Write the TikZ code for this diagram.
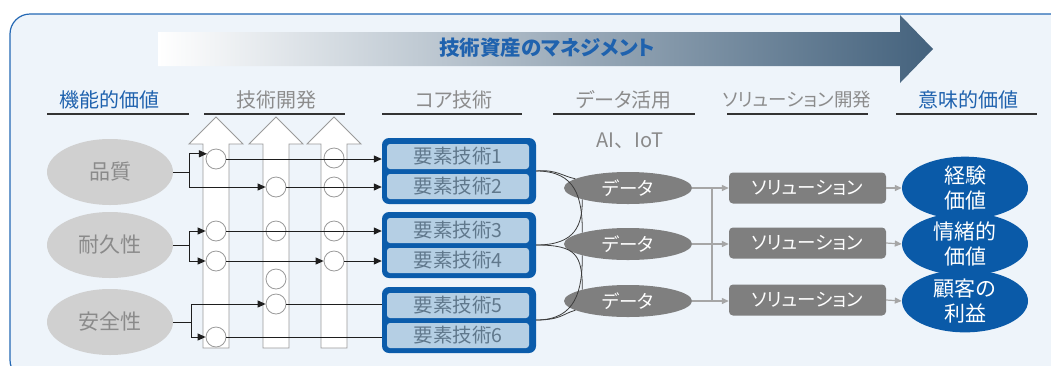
\documentclass[tikz,border=0pt]{standalone}
\usepackage{fontspec}
\setmainfont{Noto Sans CJK JP}[RawFeature=+palt]
\newfontfamily\jpfull{Noto Sans CJK JP}
\usetikzlibrary{arrows.meta,shapes.geometric,calc}
\definecolor{panelfill}{HTML}{EEF4FA}
\definecolor{panelline}{HTML}{2468B4}
\definecolor{hblue}{HTML}{1F62AE}
\definecolor{hgray}{HTML}{8C8C8C}
\definecolor{lgray}{HTML}{D0D0D0}
\definecolor{tgray}{HTML}{8A8A8A}
\definecolor{gblue}{HTML}{0B5CAB}
\definecolor{ibox}{HTML}{B5CFE4}
\definecolor{itext}{HTML}{60788C}
\definecolor{dgray}{HTML}{7F7F7F}
\definecolor{vblue}{HTML}{0A5AA8}
\definecolor{arrdark}{HTML}{44627D}
\definecolor{arrmid}{HTML}{C2D1DD}
\definecolor{cgray}{HTML}{9A9A9A}
\definecolor{busgray}{HTML}{A6A6A6}
\definecolor{linedark}{HTML}{1E1E1E}
\definecolor{curvegray}{HTML}{3C3C3C}
\tikzset{
  fs/.style={font=\fontsize{#1}{#1}\selectfont},
  header/.style={fs=20, text=hgray, inner sep=0pt},
  headerblue/.style={fs=20, text=hblue, inner sep=0pt},
  hline/.style={draw=black!80, line width=1.1pt},
  leftell/.style={ellipse, fill=lgray, minimum width=126pt, minimum height=66pt, inner sep=0pt, text=tgray, fs=21},
  uparrow/.style={draw=cgray, fill=white, line width=0.9pt},
  circ/.style={circle, draw=cgray, fill=white, line width=0.8pt, minimum size=20pt, inner sep=0pt},
  conn/.style={draw=linedark, line width=1pt},
  connarr/.style={conn, -{Triangle[length=8pt,width=7pt]}},
  group/.style={rectangle, rounded corners=7pt, fill=gblue, minimum width=154pt, minimum height=66pt, inner sep=0pt},
  elem/.style={rectangle, rounded corners=3pt, fill=ibox, minimum width=142pt, minimum height=25pt, inner sep=0pt, text=itext, fs=19.5},
  curve/.style={draw=curvegray, line width=0.8pt},
  dataell/.style={ellipse, fill=dgray, minimum width=128pt, minimum height=32pt, inner sep=0pt, text=white, fs=18.5},
  sol/.style={rectangle, rounded corners=4pt, fill=dgray, minimum width=157pt, minimum height=31pt, inner sep=0pt, text=white, fs=18.5},
  valell/.style={ellipse, fill=vblue, minimum width=126pt, minimum height=56pt, inner sep=0pt, text=white, align=center, font=\fontsize{21}{25}\selectfont},
  gl/.style={draw=busgray, line width=1.2pt},
  garr/.style={gl, -{Triangle[length=7pt,width=6pt]}},
}
\begin{document}
\begin{tikzpicture}[x=1pt,y=-1pt]
\useasboundingbox (0,0) rectangle (1051,365);
\clip (0,0) rectangle (1051,365);
% panel
\draw[draw=panelline, fill=panelfill, line width=1.2pt, rounded corners=20pt] (10,14) rectangle (1100,380);
% big gradient arrow
\shade[left color=white, middle color=arrmid, right color=arrdark]
  (158,32) -- (900,32) -- (900,15) -- (933,49) -- (900,83) -- (900,66) -- (158,66) -- cycle;
\node[font=\bfseries\fontsize{20.5}{20.5}\selectfont, text=hblue] (title) at (547,48) {技術資産のマネジメント};
% headers
\node[headerblue] (h1) at (109,100) {機能的価値};
\node[header] (h2) at (276,100) {技術開発};
\node[header] (h3) at (454,100) {コア技術};
\node[header] (h4) at (624,100) {データ活用};
\node[header, fs=18.5] (h5) at (797,100) {ソリューション開発};
\node[headerblue] (h6) at (968,100) {意味的価値};
\draw[hline] (47,114) -- (189,114);
\draw[hline] (204,114) -- (345,114);
\draw[hline] (382,114) -- (522,114);
\draw[hline] (553,114) -- (695,114);
\draw[hline] (727,114) -- (868,114);
\draw[hline] (896,114) -- (1037,114);
% up arrows
\foreach \cx in {216,276,334}{
  \draw[uparrow] (\cx-13,348) -- (\cx-13,144) -- (\cx-27,144) -- (\cx,117) -- (\cx+27,144) -- (\cx+13,144) -- (\cx+13,348) -- cycle;
}
% circles
\node[circ] (c1r1) at (216,159) {};
\node[circ] (c1r3) at (216,231) {};
\node[circ] (c1r4) at (216,261) {};
\node[circ] (c1r6) at (216,337) {};
\node[circ] (c2r2) at (276,187) {};
\node[circ] (c2r3) at (276,231) {};
\node[circ] (c2rx) at (276,279) {};
\node[circ] (c2r5) at (276,304) {};
\node[circ] (c3r1) at (334,158) {};
\node[circ] (c3r2) at (334,187) {};
\node[circ] (c3r3) at (334,231) {};
\node[circ] (c3r4) at (334,261) {};
% left ellipses
\node[leftell] (lq) at (110,172) {品質};
\node[leftell] (ld) at (110,245) {耐久性};
\node[leftell] (ls) at (110,322) {安全性};
% groups and elements
\node[group] (g1) at (459,171) {};
\node[group] (g2) at (459,245) {};
\node[group] (g3) at (459,320) {};
\node[elem] (e1) at (458,156.5) {要素技術1};
\node[elem] (e2) at (458,186.5) {要素技術2};
\node[elem] (e3) at (458,230.5) {要素技術3};
\node[elem] (e4) at (458,260.5) {要素技術4};
\node[elem] (e5) at (458,305.5) {要素技術5};
\node[elem] (e6) at (458,335.5) {要素技術6};
% left connectors
\draw[conn] (lq.east) -- ++(16,0) coordinate (jq);
\draw[connarr] (jq) |- (c1r1.150);
\draw[connarr] (jq) |- (c2r2.west);
\draw[conn] (ld.east) -- ++(16,0) coordinate (jd);
\draw[connarr] (jd) |- (c1r3.west);
\draw[connarr] (jd) |- (c1r4.west);
\draw[conn] (ls.east) -- ++(18,0) coordinate (js);
\draw[connarr] (js) |- (c2r5.west);
\draw[connarr] (js) |- (c1r6.west);
% row lines
\draw[connarr] (c1r1.east) -- (c1r1.east -| g1.west);
\draw[connarr] (c2r2.east) -- (c2r2.east -| g1.west);
\draw[connarr] (c1r3.east) -- (c1r3.east -| g2.west);
\draw[connarr] (c1r4.east) -- (c3r4.west);
\draw[connarr] (c3r4.east) -- (c3r4.east -| g2.west);
\draw[conn] (c2r5.east) -- (c2r5.east -| g3.west);
\draw[conn] (c1r6.east) -- (c1r6.east -| g3.west);
% data
\node[dataell] (d1) at (628,188) {データ};
\node[dataell] (d2) at (628,244) {データ};
\node[dataell] (d3) at (628,301) {データ};
\node[font=\jpfull\fontsize{20}{20}\selectfont, text=tgray] (ai) at (630,141) {AI、IoT};
% curves from groups to data
\draw[curve] (g1.east) .. controls +(20,-2) and +(-12,-2) .. (d1.170);
\draw[curve] (g1.east) .. controls +(40,0) and +(0,-35) .. (d2.166);
\draw[curve] (g2.east) .. controls +(40,0) and +(0,25) .. (d1.194);
\draw[curve] (g2.east) .. controls +(40,0) and +(0,-35) .. (d3.166);
\draw[curve] (g3.east) .. controls +(40,0) and +(0,35) .. (d2.194);
\draw[curve] (g3.east) .. controls +(25,0) and +(-12,3) .. (d3.190);
% solutions
\node[sol] (s1) at (807.5,188) {ソリューション};
\node[sol] (s2) at (807.5,243) {ソリューション};
\node[sol] (s3) at (807.5,300) {ソリューション};
\coordinate (b1) at (712,188);
\coordinate (b2) at (712,244);
\coordinate (b3) at (712,301);
\draw[gl] (d1.east) -- (b1);
\draw[gl] (d2.east) -- (b2);
\draw[gl] (d3.east) -- (b3);
\draw[gl] (b1) -- (b3);
\draw[garr] (b1) -- (s1.west |- b1);
\draw[garr] (b2) -- (s2.west |- b2);
\draw[garr] (b3) -- (s3.west |- b3);
% values
\node[valell] (v1) at (965,188) {経験\\価値};
\node[valell] (v2) at (965,244) {情緒的\\価値};
\node[valell] (v3) at (965,301) {顧客の\\利益};
\draw[garr] (s1.east) -- (v1.west);
\draw[garr] (s2.east) -- (v2.west);
\draw[garr] (s3.east) -- (v3.west);
\end{tikzpicture}
\end{document}
